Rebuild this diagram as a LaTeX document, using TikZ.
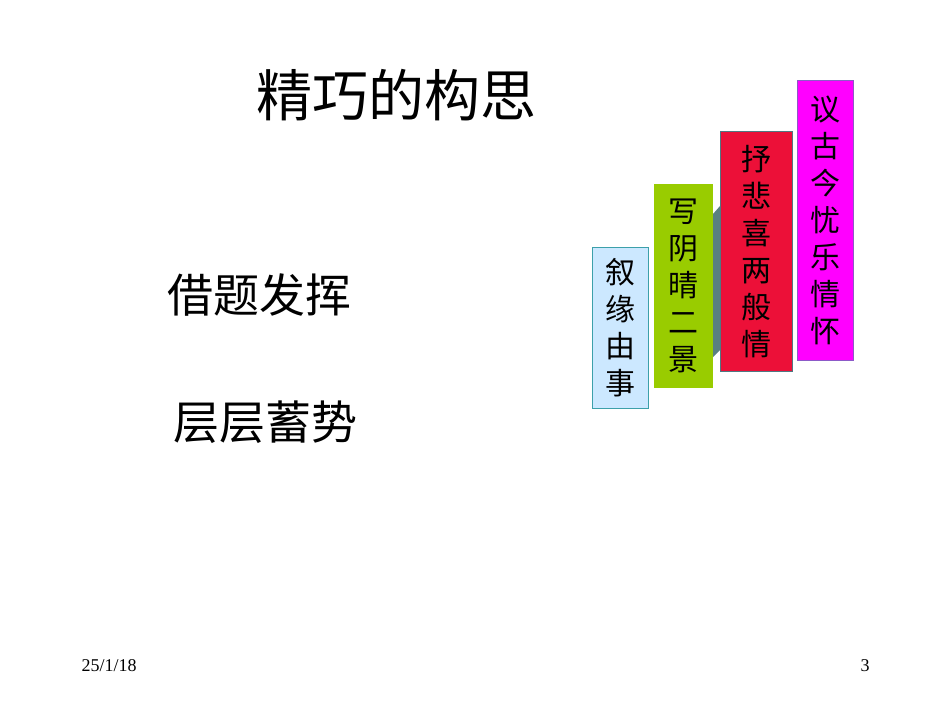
\documentclass[tikz,border=0pt]{standalone}
\usepackage{fontspec}
\setmainfont{Liberation Serif}
\newfontfamily\cjk{Noto Sans CJK SC}
\begin{document}
\begin{tikzpicture}[x=1pt,y=-1pt,
  bx/.style={draw, line width=1pt, anchor=north west, inner sep=0pt, font=\cjk\fontsize{30}{37}\selectfont, align=center},
  big/.style={font=\cjk\fontsize{46}{50}\selectfont}]
\useasboundingbox (0,0) rectangle (950,713);
\fill[gray!70!teal] (713,214) -- (720,206) -- (720,350) -- (713,357) -- cycle;
\node[bx, fill={rgb,255:red,204;green,232;blue,255}, draw={rgb,255:red,60;green,160;blue,170}, minimum width=56, minimum height=161] (b1) at (592,247) {叙\\缘\\由\\事};
\node[bx, fill={rgb,255:red,153;green,204;blue,0}, draw={rgb,255:red,153;green,204;blue,0}, minimum width=58, minimum height=203] (b2) at (654,184) {写\\阴\\晴\\二\\景};
\node[bx, fill={rgb,255:red,236;green,16;blue,56}, draw={rgb,255:red,80;green,120;blue,130}, minimum width=72, minimum height=240] (b3) at (720,131) {抒\\悲\\喜\\两\\般\\情};
\node[bx, fill={rgb,255:red,255;green,0;blue,255}, draw={rgb,255:red,140;green,90;blue,200}, minimum width=56, minimum height=280] (b4) at (797,80) {议\\古\\今\\忧\\乐\\情\\怀};
\node[font=\cjk\fontsize{56}{60}\selectfont] (t) at (396,95) {精巧的构思};
\node[big] (l1) at (259,295) {借题发挥};
\node[big] (l2) at (265,422) {层层蓄势};
\node[font=\fontsize{18}{20}\selectfont] (d) at (109,666) {25/1/18};
\node[font=\fontsize{18}{20}\selectfont] (p) at (865,666) {3};
\end{tikzpicture}
\end{document}
